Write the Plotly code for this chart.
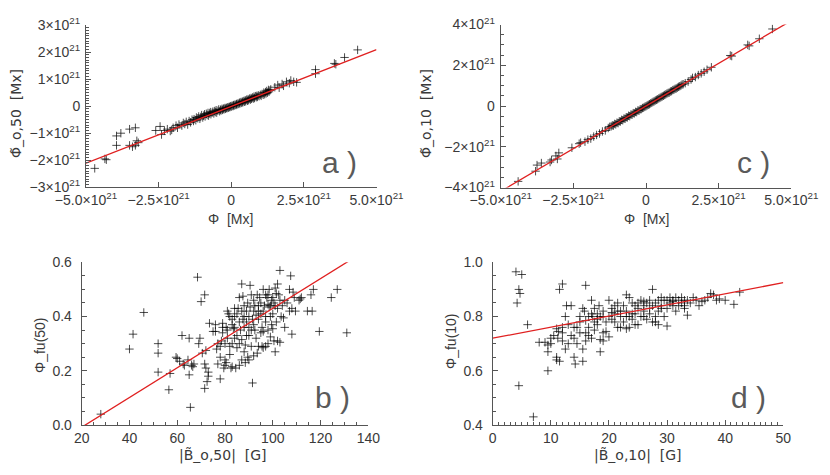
import plotly.graph_objects as go

# ---------------- data ----------------
# Panel a: Phi [1e21 Mx] vs Phi~_o,50 [1e21 Mx]
A_POINTS = [
    (-4.70, -2.30), (-4.35, -1.95), (-4.30, -1.98), (-3.95, -1.10), (-3.95, -1.45), (-3.80, -1.00),
    (-3.50, -0.85), (-3.30, -0.80), (-3.50, -1.45), (-3.40, -1.50), (-3.30, -1.45), (-3.20, -1.35),
    (-3.25, -1.28), (-2.60, -0.90), (-2.45, -0.75), (-2.40, -1.05), (-2.30, -0.90), (-2.20, -0.85),
    (-2.10, -0.92), (-2.00, -0.80), (-2.05, -0.88), (-1.90, -0.72), (-1.85, -0.80), (-1.80, -0.68),
    (-1.70, -0.72), (-1.65, -0.62), (-1.60, -0.66), (-1.55, -0.58), (-1.50, -0.68), (-1.45, -0.55),
    (-1.40, -0.60), (-1.35, -0.50),
    (-1.30, -0.55), (-1.28, -0.48), (-1.22, -0.52), (-1.20, -0.42), (-1.15, -0.45), (-1.12, -0.38),
    (-1.08, -0.47), (-1.05, -0.40), (-1.02, -0.33), (-0.98, -0.42), (-0.95, -0.35), (-0.92, -0.30),
    (-0.90, -0.38), (-0.86, -0.28), (-0.83, -0.33), (-0.80, -0.25), (-0.78, -0.35), (-0.75, -0.27),
    (-0.72, -0.22), (-0.70, -0.30), (-0.66, -0.24), (-0.63, -0.20), (-0.60, -0.27), (-0.57, -0.18),
    (-0.55, -0.22), (-0.52, -0.15), (-0.50, -0.24), (-0.46, -0.17), (-0.43, -0.12), (-0.40, -0.19),
    (-0.37, -0.13), (-0.35, -0.16), (-0.32, -0.10), (-0.30, -0.14), (-0.27, -0.09), (-0.25, -0.12),
    (-0.22, -0.07), (-0.20, -0.10), (-0.17, -0.06), (-0.15, -0.08), (-0.12, -0.04), (-0.10, -0.06),
    (-0.07, -0.02), (-0.05, -0.04), (-0.02, 0.00), (0.00, -0.02), (0.03, 0.02), (0.06, 0.00),
    (0.08, 0.04), (0.10, 0.02), (0.13, 0.06), (0.16, 0.04), (0.18, 0.08), (0.20, 0.06),
    (0.23, 0.10), (0.26, 0.08), (0.28, 0.13), (0.30, 0.10), (0.33, 0.15), (0.36, 0.12),
    (0.38, 0.17), (0.40, 0.14), (0.43, 0.19), (0.46, 0.16), (0.48, 0.22), (0.50, 0.18),
    (0.53, 0.24), (0.56, 0.20), (0.58, 0.26), (0.60, 0.22), (0.63, 0.28), (0.66, 0.24),
    (0.68, 0.30), (0.70, 0.27), (0.73, 0.32), (0.76, 0.28), (0.78, 0.35), (0.80, 0.30),
    (0.83, 0.37), (0.86, 0.33), (0.88, 0.38), (0.90, 0.34), (0.93, 0.40), (0.96, 0.37),
    (1.00, 0.42), (1.03, 0.38), (1.06, 0.45), (1.10, 0.42), (1.12, 0.50), (1.15, 0.44),
    (1.18, 0.52), (1.20, 0.47), (1.22, 0.56), (1.25, 0.50), (1.28, 0.60), (1.30, 0.53),
    (1.33, 0.58), (1.36, 0.62),
    (1.50, 0.70), (1.60, 0.78), (1.65, 0.68), (1.75, 0.82), (1.80, 0.75), (1.90, 0.90),
    (2.00, 0.85), (2.05, 0.95), (2.15, 0.90), (2.25, 0.88), (2.90, 1.35), (2.90, 1.20),
    (3.55, 1.58), (3.60, 1.55), (3.90, 1.80), (4.35, 2.08),
]
A_FIT = (0.42, -0.01)          # slope, intercept [1e21 Mx]

# Panel c: Phi [1e21 Mx] vs Phi~_o,10 [1e21 Mx]
C_POINTS = [
    (-4.40, -3.70), (-3.80, -3.20), (-3.75, -2.90), (-3.60, -2.80), (-3.30, -2.75), (-3.25, -2.65),
    (-3.10, -2.45), (-3.00, -2.30), (-3.05, -2.60), (-2.55, -2.05), (-2.30, -1.85), (-2.25, -1.80),
    (-2.10, -1.75), (-2.00, -1.65), (-1.90, -1.60), (-1.80, -1.50), (-1.70, -1.42), (-1.60, -1.35),
    (-1.50, -1.25), (-1.40, -1.20), (-1.30, -1.08),
    (-1.25, -1.02), (-1.20, -1.00), (-1.16, -0.95), (-1.12, -0.96), (-1.08, -0.88), (-1.04, -0.90),
    (-1.00, -0.82), (-0.96, -0.84), (-0.92, -0.75), (-0.88, -0.76), (-0.84, -0.68), (-0.80, -0.70),
    (-0.76, -0.62), (-0.72, -0.63), (-0.68, -0.55), (-0.64, -0.56), (-0.60, -0.48), (-0.56, -0.50),
    (-0.52, -0.42), (-0.48, -0.43), (-0.44, -0.35), (-0.40, -0.36), (-0.36, -0.29), (-0.32, -0.30),
    (-0.28, -0.22), (-0.24, -0.23), (-0.20, -0.16), (-0.16, -0.15), (-0.12, -0.10), (-0.08, -0.08),
    (-0.04, -0.04), (0.00, -0.01), (0.04, 0.03), (0.08, 0.06), (0.12, 0.09), (0.16, 0.13),
    (0.20, 0.16), (0.24, 0.20), (0.28, 0.23), (0.32, 0.27), (0.36, 0.30), (0.40, 0.33),
    (0.44, 0.37), (0.48, 0.40), (0.52, 0.44), (0.56, 0.47), (0.60, 0.50), (0.64, 0.54),
    (0.68, 0.57), (0.72, 0.61), (0.76, 0.64), (0.80, 0.66), (0.84, 0.71), (0.88, 0.73),
    (0.92, 0.78), (0.96, 0.80), (1.00, 0.84), (1.04, 0.86), (1.08, 0.90), (1.12, 0.94),
    (1.16, 0.97), (1.20, 1.00), (1.24, 1.05), (1.28, 1.07),
    (1.35, 1.12), (1.45, 1.20), (1.55, 1.30), (1.60, 1.38), (1.70, 1.42), (1.80, 1.52),
    (1.90, 1.60), (2.00, 1.68), (2.10, 1.78), (2.25, 1.90), (2.90, 2.48), (2.95, 2.45),
    (3.50, 3.00), (3.55, 2.95), (3.90, 3.30), (4.35, 3.78),
]
C_FIT = (0.838, 0.0)

# Panel b: |B~_o,50| [G] vs Phi_fu(50)
B_POINTS = [
    (28, 0.04), (40, 0.28), (41.5, 0.335), (46, 0.415), (52, 0.30), (52, 0.265), (52, 0.195),
    (56.5, 0.13), (57, 0.19), (59.5, 0.25), (60, 0.245), (61, 0.235), (62, 0.33), (62.5, 0.225),
    (63, 0.22), (64.5, 0.24), (65, 0.32), (65, 0.185), (65.5, 0.065), (66, 0.22), (66.5, 0.215),
    (67, 0.225), (68.5, 0.545), (69, 0.30), (69.5, 0.32), (70, 0.455), (70.5, 0.265), (71.5, 0.48),
    (71.5, 0.225), (71.5, 0.135), (72, 0.21), (72, 0.275), (72.5, 0.16), (73, 0.195), (73, 0.18),
    (73.5, 0.375), (75, 0.345), (76, 0.345), (76.5, 0.28), (77, 0.225), (78, 0.25), (78, 0.17),
    (78.5, 0.31), (79, 0.375), (79, 0.34), (80, 0.24), (80, 0.22), (80.5, 0.36), (81, 0.35),
    (81, 0.32), (81, 0.42), (81.5, 0.41), (82, 0.26), (82, 0.29), (82.5, 0.21), (83, 0.30),
    (83, 0.37), (83.5, 0.355), (84, 0.40), (84, 0.43), (84.5, 0.21), (85, 0.33), (85, 0.285),
    (85.5, 0.43), (86, 0.38), (86, 0.47), (86.5, 0.35), (87, 0.24), (87, 0.315), (87, 0.52),
    (87.5, 0.39), (87.5, 0.475), (88, 0.36), (88, 0.40), (88.5, 0.295), (88.5, 0.23), (89, 0.42),
    (89, 0.38), (89.5, 0.45), (89.5, 0.25), (90, 0.40), (90, 0.36), (90.5, 0.435), (90.5, 0.515),
    (91, 0.48), (91, 0.29), (91.5, 0.155), (91.5, 0.39), (92, 0.42), (92, 0.46), (92.5, 0.35),
    (92.5, 0.44), (93, 0.405), (93, 0.32), (93.5, 0.48), (93.5, 0.265), (94, 0.42), (94, 0.39),
    (94.5, 0.47), (95, 0.34), (95, 0.45), (95.5, 0.29), (95.5, 0.36), (96, 0.50), (96, 0.42),
    (96, 0.345), (96.5, 0.44), (97, 0.48), (97, 0.38), (97, 0.29), (97.5, 0.47), (98, 0.445),
    (98, 0.35), (98.5, 0.50), (98.5, 0.435), (99, 0.44), (99, 0.325), (99.5, 0.46), (99.5, 0.37),
    (100, 0.47), (100, 0.41), (100, 0.355), (100.5, 0.31), (101, 0.505), (101, 0.44), (101, 0.27),
    (101.5, 0.485), (101.5, 0.38), (102, 0.52), (102, 0.43), (102, 0.31), (102.5, 0.48),
    (103, 0.57), (103, 0.46), (103, 0.305), (103.5, 0.40), (104, 0.44), (104.5, 0.395),
    (105, 0.36), (105, 0.46), (106, 0.45), (107, 0.50), (107, 0.42), (107.5, 0.55), (108, 0.335),
    (108, 0.43), (108.5, 0.49), (109, 0.47), (109.5, 0.42), (111, 0.46), (111.5, 0.465),
    (112, 0.47), (114.5, 0.42), (116, 0.48), (116.5, 0.42), (117, 0.50), (119.5, 0.345),
    (124.5, 0.47), (127, 0.50), (131, 0.34),
    (77, 0.30), (78, 0.29), (79.5, 0.21), (80.5, 0.23), (83, 0.215), (86, 0.22), (88, 0.27),
    (90, 0.24), (92, 0.255), (94, 0.29), (96, 0.285), (98, 0.30), (84, 0.32), (86, 0.30),
    (80, 0.30), (90, 0.33), (88, 0.44), (85, 0.41), (92, 0.37), (95, 0.41), (97, 0.40),
    (99, 0.40), (100.5, 0.45), (98, 0.48), (94, 0.44), (91, 0.35), (89, 0.33), (87, 0.42),
    (83, 0.39), (79, 0.36), (76, 0.37), (82, 0.40), (84, 0.36),
]
B_FIT = (0.00548, -0.1178)      # slope, intercept

# Panel d: |B~_o,10| [G] vs Phi_fu(10)
D_POINTS = [
    (4, 0.965), (5, 0.955), (4.5, 0.90), (4.7, 0.885), (4.2, 0.85), (6, 0.77), (4.5, 0.545),
    (7, 0.43), (8, 0.705), (9, 0.705), (9.5, 0.695), (9.5, 0.67), (9.5, 0.60), (10, 0.72),
    (10.5, 0.73), (11, 0.65), (11, 0.64), (11.2, 0.72), (11, 0.755), (11.3, 0.745), (11.5, 0.90),
    (12, 0.92), (12, 0.76), (12.5, 0.80), (12.5, 0.68), (11.5, 0.635), (12, 0.71), (12.7, 0.84),
    (13.5, 0.84), (13, 0.77), (13.5, 0.73), (14, 0.72), (14, 0.65), (14.2, 0.625), (14.5, 0.70),
    (14.5, 0.76), (15, 0.78), (15, 0.74), (15.5, 0.68), (15.5, 0.635), (15.5, 0.83), (15.8, 0.82),
    (16, 0.915), (16, 0.785), (16, 0.74), (16, 0.71), (16.5, 0.76), (16.5, 0.73), (17, 0.86),
    (17, 0.81), (17.2, 0.80), (17.5, 0.83), (17.5, 0.75), (18, 0.79), (18, 0.77), (18.3, 0.84),
    (18.5, 0.80), (18.5, 0.715), (18.5, 0.67), (19, 0.82), (19, 0.74), (19.5, 0.78), (19.5, 0.745),
    (20, 0.86), (20, 0.80), (20, 0.725), (20.5, 0.83), (20.5, 0.79), (21, 0.81), (21, 0.78),
    (21.5, 0.85), (21.5, 0.82), (22, 0.80), (22, 0.76), (22.5, 0.78), (22.5, 0.84), (23, 0.88),
    (23, 0.82), (23, 0.755), (23.5, 0.87), (23.5, 0.80), (23.5, 0.76), (24, 0.79), (24, 0.85),
    (24.5, 0.84), (24.5, 0.81), (25, 0.77), (25, 0.83), (25.5, 0.86), (25.5, 0.80), (26, 0.84),
    (26, 0.82), (26.5, 0.85), (26.5, 0.79), (27, 0.83), (27, 0.86), (27.5, 0.90), (27.5, 0.84),
    (28, 0.78), (28, 0.85), (28.5, 0.86), (28.5, 0.82), (29, 0.87), (29, 0.84), (29.5, 0.86),
    (29.5, 0.80), (30, 0.765), (30, 0.86), (30, 0.83), (30.5, 0.87), (30.5, 0.85), (31, 0.86),
    (31, 0.84), (31.5, 0.87), (31.5, 0.82), (32, 0.86), (32, 0.84), (32.5, 0.87), (32.5, 0.85),
    (33, 0.86), (33, 0.84), (33.5, 0.805), (33.5, 0.86), (34, 0.85), (35, 0.86), (35.5, 0.84),
    (36, 0.855), (36.5, 0.86), (37, 0.87), (37.5, 0.885), (38, 0.88), (38.5, 0.86), (39, 0.865),
    (40, 0.86), (41.5, 0.845), (42.5, 0.89),
    (17.5, 0.78), (19, 0.80), (21, 0.84), (22, 0.82), (24, 0.81), (26, 0.80), (27, 0.81),
    (28, 0.80), (25, 0.85), (29, 0.83), (31, 0.855), (33, 0.83), (34.5, 0.87), (26, 0.855),
    (23, 0.80), (20.5, 0.815), (18, 0.81), (16.5, 0.80), (15, 0.80), (14, 0.76), (13, 0.70),
    (10, 0.70), (12, 0.74), (17, 0.72), (19, 0.71), (21.5, 0.76), (24.5, 0.77), (27.5, 0.78),
    (28.5, 0.77),
]
D_FIT = (0.0041, 0.72)

E21 = 1e21
A_XTICKS = [-5e21, -2.5e21, 0, 2.5e21, 5e21]
A_XTEXT = ["−5.0×10<sup>21</sup>", "−2.5×10<sup>21</sup>", "0", "2.5×10<sup>21</sup>", "5.0×10<sup>21</sup>"]
A_YTICKS = [-3e21, -2e21, -1e21, 0, 1e21, 2e21, 3e21]
A_YTEXT = ["−3×10<sup>21</sup>", "−2×10<sup>21</sup>", "−1×10<sup>21</sup>", "0",
           "1×10<sup>21</sup>", "2×10<sup>21</sup>", "3×10<sup>21</sup>"]
C_YTICKS = [-4e21, -2e21, 0, 2e21, 4e21]
C_YTEXT = ["−4×10<sup>21</sup>", "−2×10<sup>21</sup>", "0", "2×10<sup>21</sup>", "4×10<sup>21</sup>"]
B_XTICKS = [20, 40, 60, 80, 100, 120, 140]
B_YTICKS = [0.0, 0.2, 0.4, 0.6]
B_YTEXT = ["0.0", "0.2", "0.4", "0.6"]
D_XTICKS = [0, 10, 20, 30, 40, 50]
D_YTICKS = [0.4, 0.6, 0.8, 1.0]
D_YTEXT = ["0.4", "0.6", "0.8", "1.0"]

# ---------------- figure ----------------
# The page body has an 8 px margin, so the figure is 8 px smaller and offset.
OX, OY = 8, 8
W, H = 822, 467
FONT = "Liberation Sans, Arial, sans-serif"
TFONT = "DejaVu Sans, Liberation Sans, sans-serif"
TXT = "#3a3a3a"
AXC = "#555555"
MARK = dict(symbol="cross-thin", size=6, line=dict(width=1, color="rgba(0,0,0,0.7)"))
RED = "#e02020"

fig = go.Figure()

def add_panel(points, fit, xr, scale, ax):
    xs = [p[0] * scale for p in points]
    ys = [p[1] * scale for p in points]
    fig.add_trace(go.Scatter(x=xs, y=ys, mode="markers", marker=MARK,
                             xaxis="x" + ax, yaxis="y" + ax, showlegend=False))
    m, c = fit
    fx = [xr[0], xr[1]]
    fy = [(m * v + c) * scale for v in fx]
    fx = [v * scale for v in fx]
    fig.add_trace(go.Scatter(x=fx, y=fy, mode="lines", line=dict(color=RED, width=1.3),
                             xaxis="x" + ax, yaxis="y" + ax, showlegend=False))

add_panel(A_POINTS, A_FIT, (-5, 5), E21, "")
add_panel(C_POINTS, C_FIT, (-5, 5), E21, "2")
add_panel(B_POINTS, B_FIT, (20, 140), 1, "3")
add_panel(D_POINTS, D_FIT, (0, 50), 1, "4")

def px_dom_x(a, b):
    return [(a - OX) / W, (b - OX) / W]

def px_dom_y(top, bottom):
    return [1 - (bottom - OY) / H, 1 - (top - OY) / H]

def axis(dom, rng, tv, tt, anchor, minor_dtick=None, standoff=None):
    d = dict(domain=dom, range=rng, tickvals=tv, ticktext=tt, anchor=anchor,
             showline=True, linecolor=AXC, linewidth=1, mirror=False,
             ticks="inside", ticklen=5, tickcolor=AXC, tickwidth=1,
             showgrid=False, zeroline=False, automargin=False,
             tickfont=dict(family=FONT, size=14, color=TXT))
    if minor_dtick:
        d["minor"] = dict(ticks="inside", ticklen=3, dtick=minor_dtick, tickcolor=AXC,
                          tickwidth=1, showgrid=False)
    if standoff is not None:
        d["ticklabelstandoff"] = standoff
    return d

lay = {}
lay["xaxis"] = axis(px_dom_x(86, 376.5), [-5e21, 5e21], A_XTICKS, A_XTEXT, "y")
lay["yaxis"] = axis(px_dom_y(25, 187.3), [-3e21, 3e21], A_YTICKS, A_YTEXT, "x", 1e20, 2)
lay["xaxis2"] = axis(px_dom_x(500.7, 791.3), [-5e21, 5e21], A_XTICKS, A_XTEXT, "y2")
lay["yaxis2"] = axis(px_dom_y(24.5, 187.5), [-4e21, 4e21], C_YTICKS, C_YTEXT, "x2", 5e20, 2)
lay["xaxis3"] = axis(px_dom_x(81.7, 368.3), [20, 140], B_XTICKS, [str(v) for v in B_XTICKS], "y3", 5)
lay["yaxis3"] = axis(px_dom_y(262.3, 425), [0, 0.6], B_YTICKS, B_YTEXT, "x3", 0.05, 6)
lay["xaxis4"] = axis(px_dom_x(492.7, 783.3), [0, 50], D_XTICKS, [str(v) for v in D_XTICKS], "y4", 1)
lay["yaxis4"] = axis(px_dom_y(262.3, 425), [0.4, 1.0], D_YTICKS, D_YTEXT, "x4", 0.05, 6)

fig.update_layout(template="none", width=W, height=H, margin=dict(l=0, r=0, t=0, b=0),
                  paper_bgcolor="white", plot_bgcolor="white", **lay)

def ann(text, x, y, size=13, angle=0, color=TXT, family=FONT):
    fig.add_annotation(text=text, x=(x - OX) / W, y=1 - (y - OY) / H, xref="paper", yref="paper",
                       showarrow=False, textangle=angle, xanchor="center", yanchor="middle",
                       font=dict(family=family, size=size, color=color))

# axis titles
ann("Φ  [Mx]", 230, 219, size=14)
ann("Φ  [Mx]", 646, 219, size=14)
ann("Φ\u0303_o,50  [Mx]", 16, 114, size=14, angle=-90, family=TFONT)
ann("Φ\u0303_o,10  [Mx]", 426, 114, size=14, angle=-90, family=TFONT)
ann("|B\u0303_o,50|  [G]", 223, 455, size=14, family=TFONT)
ann("|B\u0303_o,10|  [G]", 638, 455, size=14, family=TFONT)
ann("Φ_fu(50)", 40, 345, size=14, angle=-90)
ann("Φ_fu(10)", 451, 341, size=14, angle=-90)

# panel labels
LBL = "#5a5a5a"
ann("a )", 339, 162, size=30, color=LBL)
ann("c )", 753, 162, size=30, color=LBL)
ann("b )", 332, 397, size=30, color=LBL)
ann("d )", 748, 397, size=30, color=LBL)

fig.write_html("out.html")
